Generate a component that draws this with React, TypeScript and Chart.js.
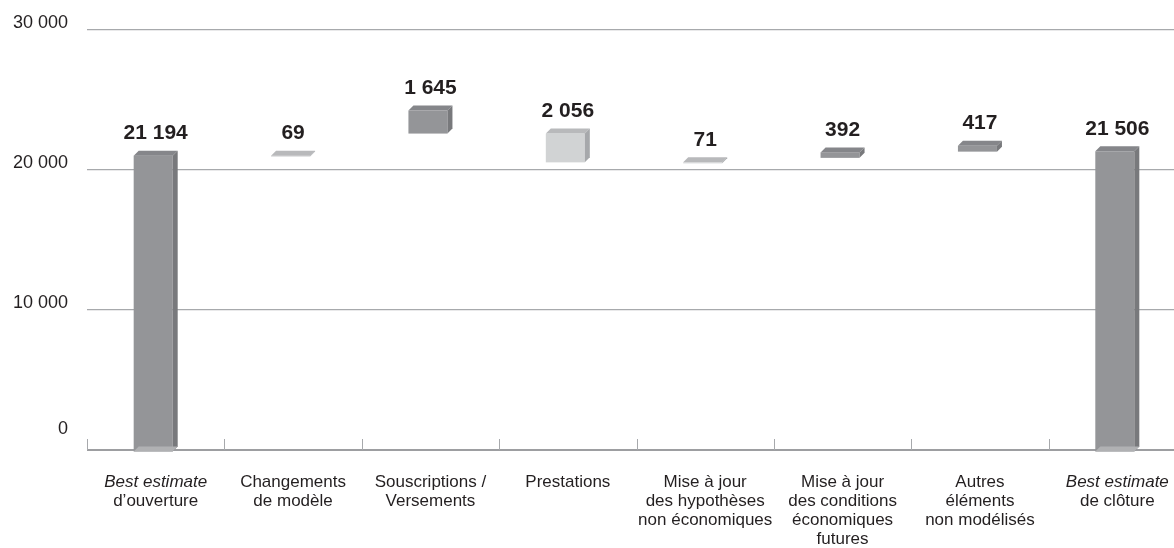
import { useEffect, useRef } from "react";
import { Chart, registerables } from "chart.js";

Chart.register(...registerables);

// ---- data ----
const categoryLines: string[][] = [
  ["Best estimate", "d’ouverture"],
  ["Changements", "de modèle"],
  ["Souscriptions /", "Versements"],
  ["Prestations"],
  ["Mise à jour", "des hypothèses", "non économiques"],
  ["Mise à jour", "des conditions", "économiques", "futures"],
  ["Autres", "éléments", "non modélisés"],
  ["Best estimate", "de clôture"],
];
const italicFirstLine = [true, false, false, false, false, false, false, true];
const valueLabels = ["21 194", "69", "1 645", "2 056", "71", "392", "417", "21 506"];
const barLow = [0, 21125, 22770, 20714, 20643, 21035, 21480, 0];
const barHigh = [21194, 21194, 24415, 22770, 20714, 21427, 21897, 21506];
const barTone = ["dark", "light", "dark", "light", "light", "dark", "dark", "dark"];
const yTicks = [0, 10000, 20000, 30000];

const FONT = "'Liberation Sans', Arial, Helvetica, sans-serif";
const TEXT = "#231f20";

const tones: Record<string, { front: string; top: string; side: string }> = {
  dark: { front: "#949598", top: "#85868a", side: "#78797c" },
  light: { front: "#d1d3d4", top: "#b8b9bb", side: "#a6a8ab" },
};

const fmt = (v: number) => String(v).replace(/\B(?=(\d{3})+(?!\d))/g, " ");

const bars3d = {
  id: "bars3d",
  afterDatasetsDraw(chart: any) {
    const ctx = chart.ctx;
    const meta = chart.getDatasetMeta(0);
    const d = 5;
    meta.data.forEach((el: any, i: number) => {
      const { x, y, base, width } = el.getProps(["x", "y", "base", "width"], true);
      const top = Math.min(y, base);
      const bot = Math.max(y, base);
      const fl = x - width / 2 - d / 2;
      const fr = fl + width;
      const ft = top + d / 2;
      const fb = bot + d / 2;
      const t = tones[barTone[i]];
      ctx.save();
      // front
      ctx.fillStyle = t.front;
      ctx.fillRect(fl, ft, width, Math.max(fb - ft, 0.8));
      // top face
      ctx.fillStyle = t.top;
      ctx.beginPath();
      ctx.moveTo(fl, ft);
      ctx.lineTo(fl + d, ft - d);
      ctx.lineTo(fr + d, ft - d);
      ctx.lineTo(fr, ft);
      ctx.closePath();
      ctx.fill();
      // side face
      ctx.fillStyle = t.side;
      ctx.beginPath();
      ctx.moveTo(fr, ft);
      ctx.lineTo(fr + d, ft - d);
      ctx.lineTo(fr + d, fb - d);
      ctx.lineTo(fr, Math.max(fb, ft + 0.8));
      ctx.closePath();
      ctx.fill();
      // floor face for bars that start at zero
      if (barLow[i] === 0) {
        ctx.fillStyle = "#b0b1b3";
        ctx.beginPath();
        ctx.moveTo(fl, fb);
        ctx.lineTo(fl + d, fb - d);
        ctx.lineTo(fr + d, fb - d);
        ctx.lineTo(fr, fb);
        ctx.closePath();
        ctx.fill();
      }
      // value label
      ctx.fillStyle = TEXT;
      ctx.font = `bold 21px ${FONT}`;
      ctx.textAlign = "center";
      ctx.textBaseline = "middle";
      ctx.fillText(valueLabels[i], chart.scales.x.getPixelForValue(i), top - 20);
      ctx.restore();
    });
  },
  afterDraw(chart: any) {
    const ctx = chart.ctx;
    const xs = chart.scales.x;
    const bottom = chart.chartArea.bottom;
    const half = (xs.getPixelForValue(1) - xs.getPixelForValue(0)) / 2;
    ctx.save();
    // tick marks at category boundaries
    ctx.strokeStyle = "#a7a9ac";
    ctx.lineWidth = 1;
    for (let i = 0; i <= categoryLines.length; i++) {
      const bx = Math.round(xs.getPixelForValue(i) - half) + 0.5;
      ctx.beginPath();
      ctx.moveTo(bx, bottom);
      ctx.lineTo(bx, bottom - 11);
      ctx.stroke();
    }
    // category labels
    ctx.fillStyle = TEXT;
    ctx.textAlign = "center";
    ctx.textBaseline = "middle";
    categoryLines.forEach((lines, i) => {
      const cx = xs.getPixelForValue(i);
      lines.forEach((line, j) => {
        ctx.font = `${j === 0 && italicFirstLine[i] ? "italic " : ""}17px ${FONT}`;
        ctx.fillText(line, cx, bottom + 32 + j * 19);
      });
    });
    ctx.restore();
  },
};

export default function App() {
  const ref = useRef<HTMLCanvasElement>(null);
  useEffect(() => {
    if (!ref.current) return;
    const chart = new Chart(ref.current, {
      type: "bar",
      data: {
        labels: categoryLines.map((l) => l.join(" ")),
        datasets: [
          {
            data: barLow.map((l, i) => [l, barHigh[i]]) as any,
            backgroundColor: "rgba(0,0,0,0)",
            borderWidth: 0,
            barPercentage: 0.284,
            categoryPercentage: 1,
          },
        ],
      },
      options: {
        responsive: false,
        animation: false,
        layout: { padding: { top: 28, right: 4, bottom: 98, left: 0 } },
        plugins: { legend: { display: false }, tooltip: { enabled: false } },
        scales: {
          x: { display: false },
          y: {
            min: 0,
            max: 30000,
            afterBuildTicks: (s: any) => {
              s.ticks = yTicks.map((v) => ({ value: v }));
            },
            afterFit: (s: any) => {
              s.width = 87;
            },
            border: { display: false },
            grid: {
              drawTicks: false,
              color: (c: any) => (c.tick && c.tick.value === 0 ? "#9d9ea1" : "#a7a9ac"),
              lineWidth: (c: any) => (c.tick && c.tick.value === 0 ? 2 : 1.3),
            },
            ticks: {
              padding: 19,
              labelOffset: -6.5,
              color: TEXT,
              font: (c: any) => ({
                family: FONT,
                size: 18,
                lineHeight: c.tick && c.tick.value === 0 ? "29px" : 1.2,
              }),
              callback: (v: any) => (Number(v) === 0 ? ["0", ""] : fmt(Number(v))),
            },
          },
        },
      },
      plugins: [bars3d],
    });
    return () => chart.destroy();
  }, []);
  return (
    <div
      style={{
        position: "fixed",
        left: 0,
        top: 0,
        width: 1174,
        height: 548,
        overflow: "hidden",
        background: "#fff",
      }}
    >
      <canvas ref={ref} width={1190} height={548} style={{ display: "block" }} />
    </div>
  );
}
